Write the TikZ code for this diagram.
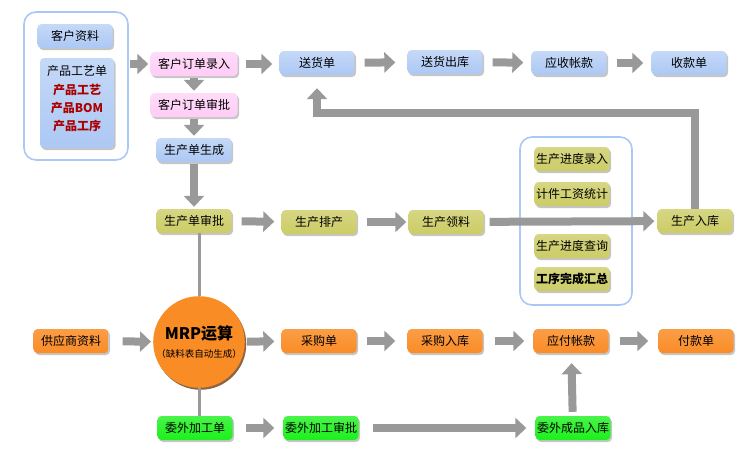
\documentclass[tikz,border=0pt]{standalone}
\usepackage{fontspec}
\setmainfont{Noto Sans CJK SC}
\usetikzlibrary{arrows.meta, shadows}

\definecolor{boxblue}{RGB}{172,200,244}
\definecolor{boxpink}{RGB}{255,204,246}
\definecolor{boxolive}{RGB}{204,204,102}
\definecolor{boxorange}{RGB}{250,140,38}
\definecolor{boxgreen}{RGB}{28,240,28}
\definecolor{arrowgray}{RGB}{153,153,153}
\definecolor{frameblue}{RGB}{170,200,246}
\definecolor{listred}{RGB}{170,0,0}

\newcommand\flowfont{\fontsize{12}{14}\selectfont}

\tikzset{
  frame/.style={draw=frameblue, line width=1.6pt, rounded corners=12pt, fill=white},
  box/.style={rounded corners=4pt, minimum width=75pt, minimum height=24pt, inner sep=1pt,
    font=\flowfont, drop shadow={shadow xshift=1.5pt, shadow yshift=-2pt, opacity=.45}},
  bluebox/.style={box, top color=boxblue!70!white, bottom color=boxblue},
  pinkbox/.style={box, top color=boxpink!70!white, bottom color=boxpink},
  olivebox/.style={box, top color=boxolive!80!white, bottom color=boxolive},
  orangebox/.style={box, top color=boxorange!85!white, bottom color=boxorange},
  greenbox/.style={box, top color=boxgreen!80!white, bottom color=boxgreen},
  bigarrow/.style={draw=arrowgray, line width=8pt, -{Triangle[width=20pt,length=11pt]},
    shorten <=10pt, shorten >=8pt},
  thinline/.style={draw=arrowgray, line width=3pt}
}

\begin{document}
\begin{tikzpicture}[x=1pt, y=-1pt]
                  % Fix the page size
                  \useasboundingbox (0,0) rectangle (749,455);

                  % Customer data frame
                  \node[frame, minimum width=104pt, minimum height=148pt] (custframe) at (76,86) {};
                  \node[bluebox] (kehu) at (75,36) {客户资料};
                  \node[bluebox, minimum width=74pt, minimum height=90pt] (gongyidan) at (77,103) {};
                  \node[font=\flowfont] (gongyititle) at (77,71) {产品工艺单};
                  \node[font=\bfseries\fontsize{12}{18}\selectfont, text=listred, align=center] (gongyilist) at (77,108)
                    {产品工艺\\产品BOM\\产品工序};

                  % Order column
                  \node[pinkbox, minimum width=87pt] (luru) at (194,64) {客户订单录入};
                  \node[pinkbox, minimum width=87pt] (dingshen) at (194,105) {客户订单审批};
                  \node[bluebox] (shengcheng) at (194,150) {生产单生成};

                  % Delivery row
                  \node[bluebox] (songhuo) at (317,63) {送货单};
                  \node[bluebox] (chuku) at (445,62) {送货出库};
                  \node[bluebox] (yingshou) at (569,63) {应收帐款};
                  \node[bluebox] (shoukuan) at (689,63) {收款单};

                  % Production row
                  \node[olivebox] (danshen) at (194,221) {生产单审批};
                  \node[olivebox] (paichan) at (319,222) {生产排产};
                  \node[olivebox] (lingliao) at (446,222) {生产领料};
                  \node[frame, minimum width=112pt, minimum height=168pt] (progframe) at (576,221) {};
                  \node[olivebox] (jindu) at (572,159) {生产进度录入};
                  \node[olivebox] (jijian) at (572,194) {计件工资统计};
                  \node[olivebox] (chaxun) at (572,246) {生产进度查询};
                  \node[olivebox, font=\flowfont\bfseries] (huizong) at (572,279) {工序完成汇总};
                  \node[olivebox] (ruku) at (695,221) {生产入库};

                  % Purchase row
                  \node[orangebox] (gongying) at (71,341) {供应商资料};
                  \node[circle, minimum size=90pt, inner sep=0pt, fill=boxorange, align=center,
                    drop shadow={shadow xshift=1.5pt, shadow yshift=-2pt, fill=boxorange!45!black, opacity=.8}]
                    (mrp) at (199,342) {{\bfseries\fontsize{16}{20}\selectfont MRP运算}\\[6pt]{\fontsize{9.5}{11}\selectfont （缺料表自动生成）}};
                  \node[orangebox] (caigou) at (319,341) {采购单};
                  \node[orangebox] (caiku) at (445,341) {采购入库};
                  \node[orangebox] (yingfu) at (571,341) {应付帐款};
                  \node[orangebox] (fukuan) at (696,341) {付款单};

                  % Outsourcing row
                  \node[greenbox] (weiwai) at (195,428) {委外加工单};
                  \node[greenbox] (weishen) at (321,428) {委外加工审批};
                  \node[greenbox] (weiku) at (573,428) {委外成品入库};

                  % Arrows of the order flow
                  \draw[bigarrow, shorten <=1pt, shorten >=2pt] (custframe.east |- luru.west) -- (luru.west);
                  \draw[bigarrow, shorten <=2pt, shorten >=2pt] (luru) -- (dingshen);
                  \draw[bigarrow, shorten <=2pt, shorten >=2pt] (dingshen) -- (shengcheng);
                  \draw[bigarrow, shorten <=2pt, shorten >=2pt] (shengcheng) -- (danshen);
                  \draw[bigarrow, shorten <=8pt, shorten >=7pt] (luru.east) -- (songhuo.west |- luru.east);
                  \draw[bigarrow, shorten >=12pt] (songhuo) -- (chuku);
                  \draw[bigarrow] (chuku) -- (yingshou);
                  \draw[bigarrow] (yingshou) -- (shoukuan);

                  % Arrows of production
                  \draw[bigarrow, shorten >=7pt] (danshen) -- (paichan);
                  \draw[bigarrow, shorten >=2pt] (paichan) -- (lingliao);
                  \draw[bigarrow, shorten <=6pt, shorten >=3pt] (lingliao) -- (ruku);

                  % Back to delivery
                  \coordinate (backturn) at (500,113);
                  \draw[bigarrow, shorten <=0pt, shorten >=13pt] (ruku.north) |- (backturn) -| (songhuo.south);

                  % MRP links
                  \draw[thinline] (mrp.north |- danshen.south) -- (mrp.north);
                  \draw[thinline] (mrp.south) -- (mrp.south |- weiwai.north);

                  % Arrows of purchase
                  \draw[bigarrow, shorten <=14pt, shorten >=2pt] (gongying) -- (mrp);
                  \draw[bigarrow, shorten <=2pt, shorten >=7pt] (mrp) -- (caigou);
                  \draw[bigarrow, shorten >=12pt] (caigou) -- (caiku);
                  \draw[bigarrow, shorten <=12pt, shorten >=9pt] (caiku) -- (yingfu);
                  \draw[bigarrow, shorten <=11pt, shorten >=10pt] (yingfu) -- (fukuan);

                  % Arrows of outsourcing
                  \draw[bigarrow, shorten <=13pt, shorten >=9pt] (weiwai) -- (weishen);
                  \draw[bigarrow, shorten <=14pt, shorten >=9pt] (weishen) -- (weiku);
                  \draw[bigarrow, shorten <=4pt, shorten >=10pt] (weiku) -- (yingfu);

              \end{tikzpicture}
\end{document}
